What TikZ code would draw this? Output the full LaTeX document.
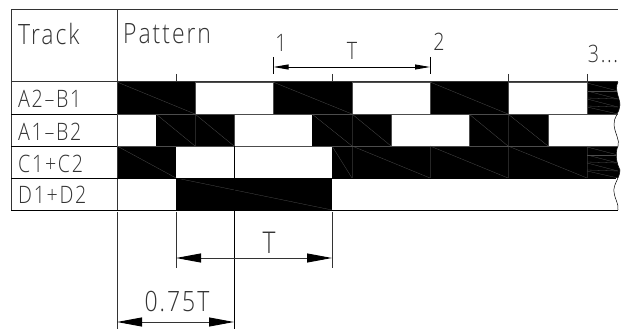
\documentclass[tikz,border=0pt]{standalone}
\usepackage{fontspec}
\setmainfont[FakeStretch=0.82,LetterSpace=7]{Open Sans Light}
\usetikzlibrary{arrows.meta}
\definecolor{ink}{gray}{0.2}
\tikzset{
 lab/.style={inner sep=0pt,text=ink,font=\fontsize{24}{24}\selectfont,anchor=base west},
 big/.style={inner sep=0pt,text=ink,font=\fontsize{28}{28}\selectfont,anchor=base west},
 num/.style={inner sep=0pt,text=ink,font=\fontsize{24}{24}\selectfont,anchor=base},
 blk/.style={fill=black,draw=none},
 diag/.style={draw=white!30!black,line width=0.3pt},
 vfaint/.style={draw=white!15!black,line width=0.3pt},
 rule/.style={draw=black,line width=0.9pt},
 grule/.style={draw=ink,line width=1pt},
 dimbig/.style={draw=ink,line width=0.9pt,{Stealth[length=25pt,width=9pt,inset=0pt,black]}-{Stealth[length=25pt,width=9pt,inset=0pt,black]}},
 dimtop/.style={draw=black,line width=0.9pt,{Stealth[length=15pt,width=5pt,inset=0pt]}-{Stealth[length=15pt,width=5pt,inset=0pt]}}
}
\begin{document}
\begin{tikzpicture}[x=1pt,y=-1pt]
\useasboundingbox (0,0) rectangle (622,329);
% black bars
\foreach \a/\b/\t in {117/195/82,273/352/82,430/508/82,587/625/82,
 156/234/114,312/391/114,469/548/114,
 117/176/146,332/625/146,
 176/332/178}
 \fill[blk] (\a,\t) rectangle (\b,\t+32);
% diagonals
\foreach \a/\t/\b in {117/82/195,273/82/352,430/82/508,
 156/114/195,195/114/234,312/114/352,352/114/391,469/114/508,508/114/548,
 117/146/176,332/146/352,352/146/430,430/146/508,508/146/587,
 176/178/332}
 \draw[diag] (\a,\t) -- (\b,\t+32);
\foreach \x/\t in {195/114,352/114,508/114,587/82,352/146,430/146,508/146,587/146}
 \draw[vfaint] (\x,\t) -- (\x,\t+32);
% end hatching
\foreach \t in {82,146}{
 \draw[diag] (587,\t+1) -- (618,\t+9);
 \draw[diag] (587,\t+9) -- (618,\t+9);
 \draw[diag] (587,\t+9) -- (618,\t+17);
 \draw[diag] (587,\t+16) -- (618,\t+17);
 \draw[diag] (587,\t+17) -- (618,\t+25);
 \draw[diag] (587,\t+24) -- (618,\t+25);
 \draw[diag] (587,\t+25) -- (618,\t+32);
}
% wavy end
\fill[white] (618,82) .. controls (614,90) and (620,98) .. (620,105) .. controls (620,112) and (613,118) .. (614,125) .. controls (615,134) and (620,140) .. (618,146) .. controls (615,153) and (616,162) .. (620,170) .. controls (620,178) and (613,184) .. (614,192) .. controls (615,200) and (619,204) .. (618,210) -- (622,210) -- (622,82) -- cycle;
\draw[black,line width=0.5pt] (618,82) .. controls (614,90) and (620,98) .. (620,105) .. controls (620,112) and (613,118) .. (614,125) .. controls (615,134) and (620,140) .. (618,146) .. controls (615,153) and (616,162) .. (620,170) .. controls (620,178) and (613,184) .. (614,192) .. controls (615,200) and (619,204) .. (618,210);
% frame
\draw[grule] (11,10) -- (618,10);
\draw[grule] (11.5,10) -- (11.5,210);
\draw[grule] (117.5,10) -- (117.5,210);
\draw[grule] (11,82) -- (618,82);
\draw[rule] (11,114) -- (117,114);
\draw[rule] (11,146) -- (117,146);
\draw[rule] (11,178) -- (117,178);
\draw[rule] (11,210) -- (618,210);
\draw[diag] (117,114) -- (618,114);
\draw[diag] (117,146) -- (618,146);
\draw[rule] (117,178) -- (616,178);
\draw[rule] (234.5,146) -- (234.5,210);
% white bar outlines
\draw[diag] (195,82) rectangle (273,114);
\draw[diag] (352,82) rectangle (430,114);
\draw[diag] (508,82) rectangle (587,114);
\draw[diag] (234,114) -- (234,146);
\draw[diag] (391,114) rectangle (469,146);
\draw[diag] (548,114) -- (548,146);
% texts
\node[big] (track) at (18,45) {Track};
\node[big] (pattern) at (123,44) {Pattern};
\node[lab] (r1) at (18,108) {A2–B1};
\node[lab] (r2) at (18,140) {A1–B2};
\node[lab] (r3) at (18,172) {C1+C2};
\node[lab] (r4) at (18,204) {D1+D2};
\node[num] (n1) at (281,52) {1};
\node[num] (n2) at (439,51) {2};
\node[num] (n3) at (603,63) {3...};
\node[num] (ttop) at (352,60) {T};
\node[big,anchor=base,font=\fontsize{30}{30}\selectfont] (tbig) at (269,253) {T};
\node[big,anchor=base] (tq) at (177,311) {0.75T};
% ticks
\foreach \x in {176,332,508,587}
 \draw[ink,line width=0.9pt] (\x.5,74) -- (\x.5,82);
\coordinate (t1a) at (273.5,57); \coordinate (t1b) at (273.5,74);
\coordinate (t2a) at (430,57); \coordinate (t2b) at (430,74);
\draw[rule] (t1a) -- (t1b);
\draw[rule] (t2a) -- (t2b);
\coordinate (ma) at (273.5,67); \coordinate (mb) at (430,67);
\draw[dimtop] (ma) -- (mb);
% lower extension lines
\coordinate (e0) at (117.5,212); \coordinate (e0b) at (117.5,329);
\coordinate (e1) at (176,212); \coordinate (e1b) at (176,268);
\coordinate (e2) at (332,212); \coordinate (e2b) at (332,268);
\coordinate (e3) at (234.5,210); \coordinate (e3b) at (234.5,329);
\draw[grule] (e0) -- (e0b);
\draw[grule] (e1) -- (e1b);
\draw[grule] (e2) -- (e2b);
\draw[rule] (e3) -- (e3b);
\coordinate (d1a) at (176,258); \coordinate (d1b) at (332,258);
\coordinate (d2a) at (117,322); \coordinate (d2b) at (234,322);
\draw[dimbig] (d1a) -- (d1b);
\draw[dimbig] (d2a) -- (d2b);
\end{tikzpicture}
\end{document}
